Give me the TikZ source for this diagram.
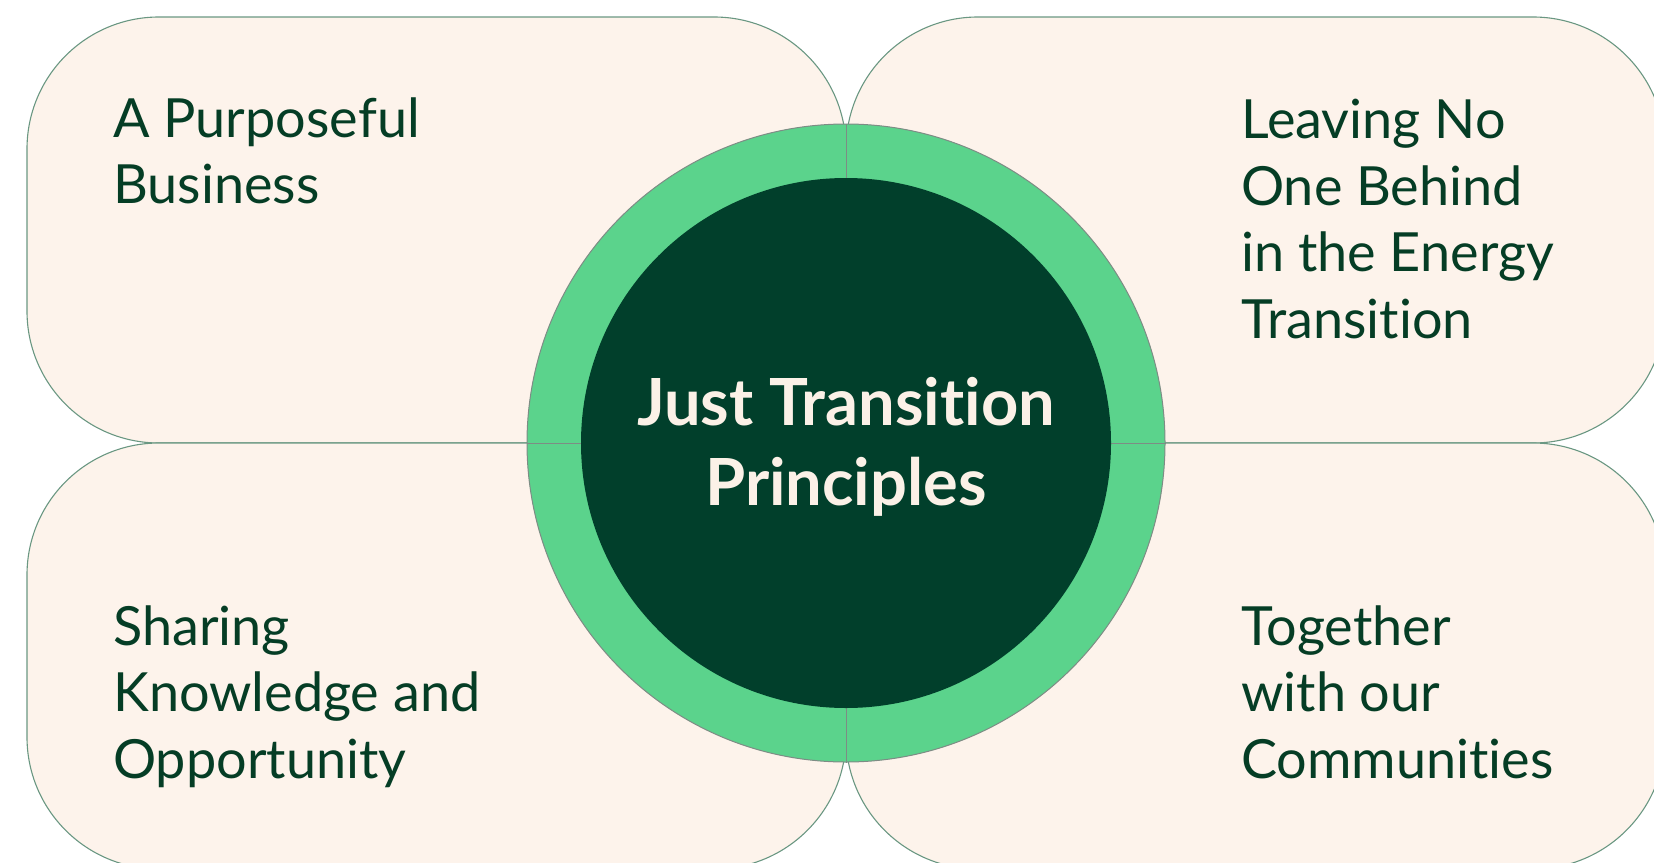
\documentclass[tikz,border=0pt]{standalone}
\usepackage{fontspec}
\setmainfont{Lato}[Ligatures=NoCommon]
\definecolor{cream}{HTML}{FDF3EB}
\definecolor{edge}{HTML}{6A9782}
\definecolor{ringgreen}{HTML}{5BD38C}
\definecolor{ringline}{HTML}{7E8C85}
\definecolor{deep}{HTML}{013F2B}
\definecolor{ink}{HTML}{053D25}
\definecolor{paper}{HTML}{FBF1E7}
\tikzset{
  panel/.style={fill=cream, draw=edge, line width=1.1pt, rounded corners=132pt},
  label/.style={anchor=base west, align=left, inner sep=0pt, text=ink,
    font=\fontsize{54}{66.5}\selectfont},
}
\begin{document}
\begin{tikzpicture}[x=1pt, y=-1pt]
  \useasboundingbox (0,0) rectangle (1654,862);
  \clip (0,0) rectangle (1654,862);
  % four rounded panels, mirrored about the centre lines
  \draw[panel] (27,17) rectangle (846,443);
  \draw[panel] (846,17) rectangle (1665,443);
  \draw[panel] (27,443) rectangle (846,869);
  \draw[panel] (846,443) rectangle (1665,869);
  % central ring with its dividers, and the core disc
  \coordinate (c) at (846,443);
  \node[circle, fill=ringgreen, draw=ringline, line width=1pt,
        minimum size=638pt, inner sep=0pt] (ring) at (c) {};
  \draw[ringline, line width=1pt] (ring.west) -- (ring.east);
  \draw[ringline, line width=1pt] (ring.north) -- (ring.south);
  \node[circle, fill=deep, minimum size=530pt, inner sep=0pt] (core) at (c) {};
  \node[align=center, text=paper, inner sep=0pt,
        font=\fontsize{65}{80}\bfseries\selectfont] (title) at (846,447) {Just Transition\\Principles};
  % principle labels (anchored at the baseline of their last line)
  \node[label] (p1) at (113,203.5) {A Purposeful\\Business};
  \node[label] (p2) at (1241,338) {Leaving No\\One Behind\\in the Energy\\Transition};
  \node[label] (p3) at (113,778) {Sharing\\Knowledge and\\Opportunity};
  \node[label] (p4) at (1241,778) {Together\\with our\\Communities};
\end{tikzpicture}
\end{document}
